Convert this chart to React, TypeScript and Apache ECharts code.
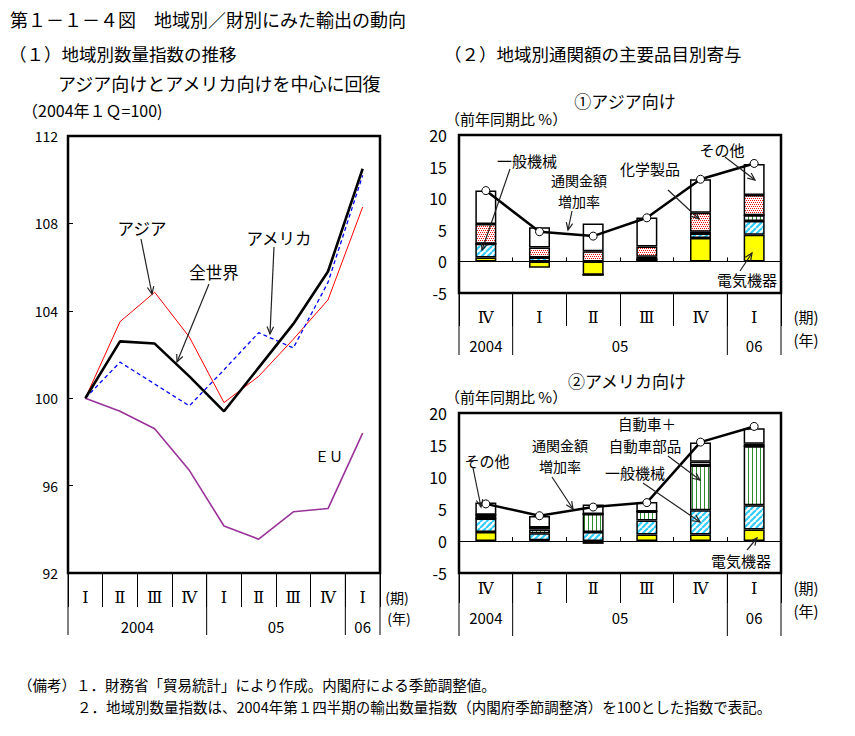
import React, { useEffect, useRef } from 'react';
import * as echarts from 'echarts';

const FONT = '"Noto Sans CJK JP", "Noto Sans", sans-serif';
const ROMAN_FONT = '"DejaVu Serif", "Noto Sans CJK JP", serif';

// ---------- (1) 地域別数量指数 ----------
const quarters9 = ['Ⅰ', 'Ⅱ', 'Ⅲ', 'Ⅳ', 'Ⅰ', 'Ⅱ', 'Ⅲ', 'Ⅳ', 'Ⅰ'];
const years9 = ['2004', '05', '06'];
const yearSpans9 = [4, 4, 1];
const worldIdx = [100, 102.6, 102.5, 101.0, 99.4, 101.4, 103.4, 105.8, 110.5];
const asiaIdx = [100, 103.5, 104.85, 102.8, 99.8, 101.0, 102.7, 104.5, 108.75];
const americaIdx = [100, 101.65, 100.65, 99.65, 101.3, 103.0, 102.3, 105.3, 110.2];
const euIdx = [100, 99.4, 98.6, 96.7, 94.15, 93.55, 94.8, 94.95, 98.4];

// ---------- (2) 主要品目別寄与 ----------
const quarters6 = ['Ⅳ', 'Ⅰ', 'Ⅱ', 'Ⅲ', 'Ⅳ', 'Ⅰ'];
const years6 = ['2004', '05', '06'];
const yearSpans6 = [1, 4, 1];

// ① アジア向け
const asiaElec = [0.6, -1.0, -2.1, 0.3, 3.7, 4.2];
const asiaMach = [2.2, 0.6, 0, 0, 0.7, 2.2];
const asiaAuto = [0, 0, 0, 0, 0, 0.9];
const asiaBlack = [0, 0, 0, 0.45, 0.3, 0];
const asiaChem = [3.1, 1.6, 1.6, 1.6, 3.0, 3.2];
const asiaOther = [5.3, 3.2, 4.4, 4.6, 5.3, 4.9];
const asiaTotal = [11.2, 4.7, 4.0, 6.9, 13.0, 15.5];

// ② アメリカ向け
const usElec = [1.4, 0.1, -0.45, 1.0, 1.0, 1.8];
const usMach = [2.1, 1.1, 1.4, 2.2, 3.8, 3.8];
const usAuto = [0, 0.6, 2.8, 1.4, 7.0, 9.2];
const usBlack = [0.6, 0.3, 0, 0, 0, 0];
const usChem = [0, 0, 0, 0, 0.6, 0.4];
const usOther = [1.9, 1.8, 1.5, 1.5, 3.0, 2.4];
const usTotal = [5.8, 3.95, 5.3, 6.0, 15.45, 17.9];

const G0 = { left: 68, top: 136, width: 312, height: 437 };
const G1 = { left: 459, top: 135, width: 322, height: 158 };
const G2 = { left: 459, top: 413, width: 322, height: 160 };

function canvasPattern(kind: string) {
  const c = document.createElement('canvas');
  const size = kind === 'hatch' ? 6 : 4;
  c.width = size;
  c.height = size;
  const g = c.getContext('2d')!;
  g.fillStyle = '#ffffff';
  g.fillRect(0, 0, size, size);
  if (kind === 'hatch') {
    g.strokeStyle = '#33CCFF';
    g.lineWidth = 2.2;
    for (const o of [-6, 0, 6]) {
      g.beginPath();
      g.moveTo(o, 6);
      g.lineTo(o + 6, 0);
      g.stroke();
    }
  } else if (kind === 'vert') {
    g.fillStyle = '#2E8B2E';
    g.fillRect(0, 0, 1, size);
  } else if (kind === 'dots') {
    g.fillStyle = '#FF0000';
    g.fillRect(0, 0, 1, 1);
    g.fillRect(2, 0, 1, 1);
    g.fillRect(1, 2, 1, 1);
    g.fillRect(3, 2, 1, 1);
  }
  return { image: c as any, repeat: 'repeat', imageWidth: size, imageHeight: size };
}

function catKeys(n: number) {
  return Array.from({ length: n }, (_, i) => 'c' + i);
}

function buildOption() {
  const hatch = canvasPattern('hatch');
  const vert = canvasPattern('vert');
  const dots = canvasPattern('dots');

  const bar = (name: string, data: number[], color: any, xi: number, yi: number) => ({
    type: 'bar',
    name,
    data,
    stack: 'st' + yi,
    xAxisIndex: xi,
    yAxisIndex: yi,
    barWidth: 21,
    itemStyle: { color, borderColor: '#000', borderWidth: 1.5 },
    emphasis: { disabled: true },
    z: 2,
  });
  const totalLine = (data: number[], xi: number, yi: number) => ({
    type: 'line',
    name: '通関金額増加率',
    data,
    xAxisIndex: xi,
    yAxisIndex: yi,
    symbol: 'circle',
    symbolSize: 8,
    itemStyle: { color: '#fff', borderColor: '#000', borderWidth: 1 },
    lineStyle: { color: '#000', width: 2.5 },
    emphasis: { disabled: true },
    z: 5,
  });

  const gridBase = { show: true, borderColor: '#000', borderWidth: 2.5, backgroundColor: 'transparent', containLabel: false };

  const yRight = (gi: number) => ({
    type: 'value',
    gridIndex: gi,
    min: -5,
    max: 20,
    interval: 5,
    axisLine: { show: false },
    axisTick: { show: false },
    splitLine: { show: false },
    axisLabel: { color: '#000', fontSize: 16, fontFamily: FONT, margin: 12 },
  });

  const zeroAxis = (gi: number) => ({
    type: 'category',
    gridIndex: gi,
    data: catKeys(6),
    position: 'bottom',
    axisLine: { show: true, onZero: true, lineStyle: { color: '#000', width: 1 } },
    axisTick: { show: true, inside: true, length: 4, lineStyle: { color: '#000', width: 1 } },
    axisLabel: { show: false },
  });
  const bottomAxis6 = (gi: number, tickLen: number, margin: number) => ({
    type: 'category',
    gridIndex: gi,
    data: catKeys(6),
    position: 'bottom',
    axisLine: { show: false, onZero: false },
    axisTick: { show: true, length: tickLen, lineStyle: { color: '#000', width: 1 } },
    axisLabel: {
      color: '#000',
      fontSize: 16,
      fontFamily: ROMAN_FONT,
      margin,
      formatter: (_v: string, i: number) => quarters6[i],
    },
  });

  return {
    animation: false,
    backgroundColor: '#fff',
    grid: [
      { ...gridBase, ...G0 },
      { ...gridBase, ...G1 },
      { ...gridBase, ...G2 },
    ],
    xAxis: [
      {
        type: 'category',
        gridIndex: 0,
        data: catKeys(9),
        position: 'bottom',
        axisLine: { show: false, onZero: false },
        axisTick: { show: true, length: 34, lineStyle: { color: '#000', width: 1 } },
        axisLabel: {
          color: '#000',
          fontSize: 16,
          fontFamily: ROMAN_FONT,
          margin: 16,
          formatter: (_v: string, i: number) => quarters9[i],
        },
      },
      zeroAxis(1),
      bottomAxis6(1, 33, 16),
      zeroAxis(2),
      bottomAxis6(2, 30, 7),
    ],
    yAxis: [
      {
        type: 'value',
        gridIndex: 0,
        min: 92,
        max: 112,
        interval: 4,
        axisLine: { show: false },
        axisTick: { show: true, inside: true, length: 5, lineStyle: { color: '#000', width: 1 } },
        splitLine: { show: false },
        axisLabel: { color: '#000', fontSize: 14, fontFamily: FONT, margin: 10 },
      },
      yRight(1),
      yRight(2),
    ],
    series: [
      { type: 'line', name: 'アジア', data: asiaIdx, xAxisIndex: 0, yAxisIndex: 0, symbol: 'none', lineStyle: { color: '#FF0000', width: 1 }, z: 3 },
      { type: 'line', name: 'アメリカ', data: americaIdx, xAxisIndex: 0, yAxisIndex: 0, symbol: 'none', lineStyle: { color: '#0000FF', width: 1.3, type: [4, 3] }, z: 3 },
      { type: 'line', name: 'ＥＵ', data: euIdx, xAxisIndex: 0, yAxisIndex: 0, symbol: 'none', lineStyle: { color: '#993399', width: 1.6 }, z: 3 },
      { type: 'line', name: '全世界', data: worldIdx, xAxisIndex: 0, yAxisIndex: 0, symbol: 'none', lineStyle: { color: '#000', width: 2.6 }, z: 4 },

      bar('電気機器', asiaElec, '#FFFF00', 1, 1),
      bar('一般機械', asiaMach, hatch, 1, 1),
      bar('自動車＋自動車部品', asiaAuto, vert, 1, 1),
      bar('その他機械', asiaBlack, '#000', 1, 1),
      bar('化学製品', asiaChem, dots, 1, 1),
      bar('その他', asiaOther, '#fff', 1, 1),
      totalLine(asiaTotal, 1, 1),

      bar('電気機器', usElec, '#FFFF00', 3, 2),
      bar('一般機械', usMach, hatch, 3, 2),
      bar('自動車＋自動車部品', usAuto, vert, 3, 2),
      bar('その他機械', usBlack, '#000', 3, 2),
      bar('化学製品', usChem, dots, 3, 2),
      bar('その他', usOther, '#fff', 3, 2),
      totalLine(usTotal, 3, 2),
    ],
  };
}

function txt(text: string, x: number, y: number, size: number, align = 'center', family = FONT) {
  return {
    type: 'text',
    x,
    y,
    silent: true,
    z: 100,
    style: {
      text,
      fill: '#000',
      fontSize: size,
      fontFamily: family,
      align,
      textAlign: align,
      verticalAlign: 'middle',
      textVerticalAlign: 'middle',
      lineHeight: size,
    },
  };
}

function arrow(x1: number, y1: number, x2: number, y2: number) {
  const ang = Math.atan2(y2 - y1, x2 - x1);
  const L = 8;
  const a = 0.42;
  const p1 = [x2 - L * Math.cos(ang - a), y2 - L * Math.sin(ang - a)];
  const p2 = [x2 - L * Math.cos(ang + a), y2 - L * Math.sin(ang + a)];
  return [
    { type: 'line', silent: true, z: 90, shape: { x1, y1, x2, y2 }, style: { stroke: '#222', lineWidth: 1.2 } },
    { type: 'polyline', silent: true, z: 90, shape: { points: [p1, [x2, y2], p2] }, style: { stroke: '#222', lineWidth: 1.2, fill: null } },
  ];
}

function yearRow(chart: any, xAxisIndex: number, spans: number[], labels: string[], top: number, labelY: number, bottom: number) {
  const c0 = chart.convertToPixel({ xAxisIndex }, 0);
  const c1 = chart.convertToPixel({ xAxisIndex }, 1);
  const band = c1 - c0;
  const els: any[] = [];
  let start = 0;
  const xs: number[] = [c0 - band / 2];
  spans.forEach((s, i) => {
    const x0 = c0 + (start - 0.5) * band;
    const x1 = x0 + s * band;
    xs.push(x1);
    els.push(txt(labels[i], (x0 + x1) / 2, labelY, 15));
    start += s;
  });
  xs.forEach((x) => {
    els.push({ type: 'line', silent: true, z: 50, shape: { x1: x, y1: top, x2: x, y2: bottom }, style: { stroke: '#000', lineWidth: 1 } });
  });
  return els;
}

function buildGraphic(chart: any) {
  const els: any[] = [];
  // titles
  els.push(txt('第１－１－４図　地域別／財別にみた輸出の動向', 10, 19, 18, 'left'));
  els.push(txt('（１）地域別数量指数の推移', 9, 53, 17.5, 'left'));
  els.push(txt('アジア向けとアメリカ向けを中心に回復', 58, 83, 18, 'left'));
  els.push(txt('（2004年１Ｑ=100)', 22, 110, 16, 'left'));
  els.push(txt('（２）地域別通関額の主要品目別寄与', 444, 53, 17.5, 'left'));
  els.push(txt('①アジア向け', 625, 100, 17));
  els.push(txt('（前年同期比 %）', 445, 118, 15, 'left'));
  els.push(txt('②アメリカ向け', 627, 380, 17));
  els.push(txt('（前年同期比 %）', 445, 396, 15, 'left'));

  // year rows
  els.push(...yearRow(chart, 0, yearSpans9, years9, G0.top + G0.height, 626, 635));
  els.push(...yearRow(chart, 2, yearSpans6, years6, G1.top + G1.height, 345, 355));
  els.push(...yearRow(chart, 4, yearSpans6, years6, G2.top + G2.height, 617, 636));
  els.push(txt('(期)', 397, 597, 14));
  els.push(txt('(年)', 399, 618, 14));
  els.push(txt('(期)', 806, 316, 15));
  els.push(txt('(年)', 806, 339, 15));
  els.push(txt('(期)', 806, 587, 15));
  els.push(txt('(年)', 806, 610, 15));

  // left annotations
  els.push(txt('アジア', 142, 228, 16.5));
  els.push(...arrow(141, 239, 152, 294));
  els.push(txt('全世界', 214, 272, 16.5));
  els.push(...arrow(209, 284, 177, 362));
  els.push(txt('アメリカ', 279, 238, 16.5));
  els.push(...arrow(274, 247, 270, 334));
  els.push(txt('ＥＵ', 329, 456, 14));

  // ① annotations
  els.push(txt('一般機械', 527, 160, 15));
  els.push(...arrow(510, 169, 482, 250));
  els.push(txt('通関金額', 579, 180, 14));
  els.push(txt('増加率', 579, 201, 14));
  els.push(...arrow(572, 211, 568, 230));
  els.push(txt('化学製品', 650, 168, 15));
  els.push(...arrow(668, 190, 699, 219));
  els.push(txt('その他', 722, 149, 15));
  els.push(...arrow(725, 157, 755, 180));
  els.push(txt('電気機器', 747, 279, 15));
  els.push(...arrow(740, 271, 752, 253));

  // ② annotations
  els.push(txt('その他', 487, 460, 15));
  els.push(...arrow(473, 468, 481, 507));
  els.push(txt('通関金額', 560, 445, 14));
  els.push(txt('増加率', 560, 466, 14));
  els.push(...arrow(552, 477, 573, 509));
  els.push(txt('自動車＋', 647, 423, 14.5));
  els.push(txt('自動車部品', 645, 445, 14.5));
  els.push(txt('一般機械', 635, 472, 15));
  els.push(...arrow(668, 456, 700, 480));
  els.push(...arrow(643, 483, 700, 522));
  els.push(txt('電気機器', 741, 560, 15));
  els.push(...arrow(747, 550, 757, 538));

  // notes
  els.push(txt('（備考）１．財務省「貿易統計」により作成。内閣府による季節調整値。', 18, 684, 14.5, 'left'));
  els.push(txt('２．地域別数量指数は、2004年第１四半期の輸出数量指数（内閣府季節調整済）を100とした指数で表記。', 77, 706, 14.5, 'left'));

  return { elements: els };
}

export default function App() {
  const ref = useRef<HTMLDivElement>(null);
  useEffect(() => {
    const prev = document.body.style.margin;
    document.body.style.margin = '0';
    const chart = echarts.init(ref.current!, null, { renderer: 'svg' });
    chart.setOption(buildOption() as any);
    chart.setOption({ graphic: buildGraphic(chart) } as any);
    return () => {
      chart.dispose();
      document.body.style.margin = prev;
    };
  }, []);
  return <div ref={ref} style={{ position: 'absolute', left: 0, top: 0, width: 855, height: 736 }} />;
}
